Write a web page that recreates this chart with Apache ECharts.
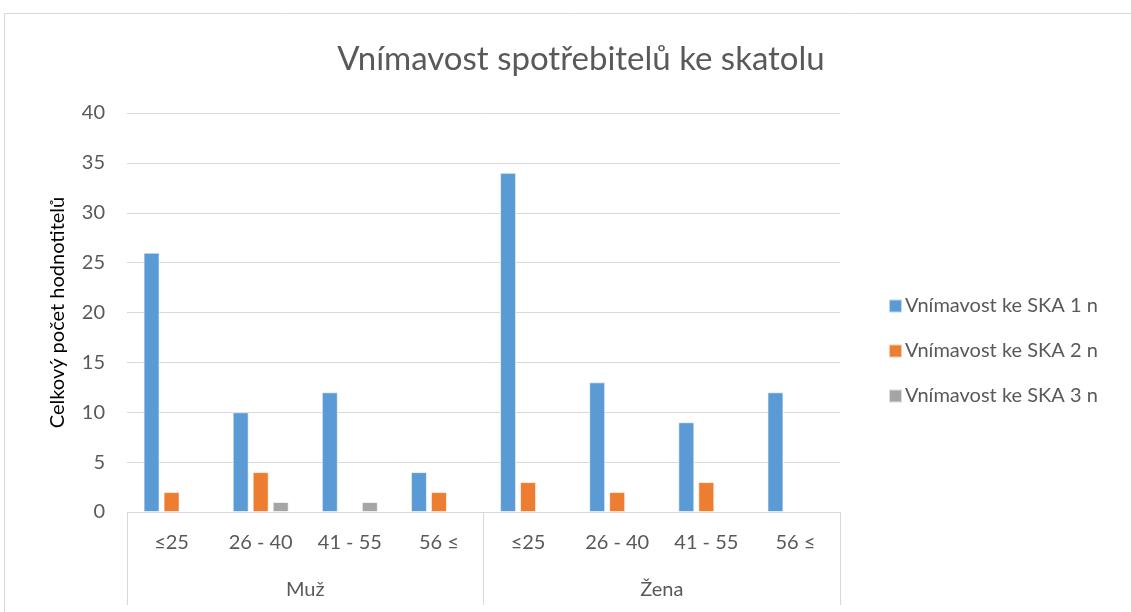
<!DOCTYPE html>
<html>
<head>
<meta charset="utf-8">
<script src="https://cdn.jsdelivr.net/npm/echarts@6/dist/echarts.min.js"></script>
<style>
  html, body { margin: 0; padding: 0; background: #fff; }
  #chart { width: 1131px; height: 612px; }
</style>
</head>
<body>
<div id="chart"></div>
<script>
const ageGroups = ["≤25", "26 - 40", "41 - 55", "56 ≤", "≤25", "26 - 40", "41 - 55", "56 ≤"];
const genders = ["Muž", "Žena"];
const seriesNames = ["Vnímavost ke SKA 1 n", "Vnímavost ke SKA 2 n", "Vnímavost ke SKA 3 n"];
const ska1 = [26, 10, 12, 4, 34, 13, 9, 12];
const ska2 = [2, 4, 0, 2, 3, 2, 3, 0];
const ska3 = [0, 1, 1, 0, 0, 0, 0, 0];
const yTicks = { min: 0, max: 40, interval: 5 };

const font = "Lato, 'Open Sans', sans-serif";
const textColor = "#595959";
const lineColor = "#d9d9d9";
const colors = ["#5B9BD5", "#ED7D31", "#A5A5A5"];

const mkSeries = (name, data, i) => ({
  name: name,
  type: "bar",
  xAxisIndex: 0,
  data: data.map(v => (v === 0 ? null : v)),
  barWidth: 16,
  barGap: "25%",
  itemStyle: {
    color: colors[i],
    borderColor: "rgba(255,255,255,0.6)",
    borderWidth: 1,
  },
});

const option = {
  animation: false,
  backgroundColor: "#fff",
  textStyle: { fontFamily: font },
  graphic: [
    {
      type: "rect",
      shape: { x: 4.5, y: 13.5, width: 1140, height: 620 },
      style: { fill: "none", stroke: lineColor, lineWidth: 1 },
      silent: true,
    },
  ],
  title: {
    text: "Vnímavost spotřebitelů ke skatolu",
    left: 576,
    textAlign: "center",
    top: 38,
    textStyle: { fontFamily: font, fontSize: 33, fontWeight: "normal", color: textColor },
  },
  legend: {
    orient: "vertical",
    left: 883,
    top: 291,
    itemWidth: 13,
    itemHeight: 13,
    itemGap: 25,
    icon: "rect",
    data: seriesNames,
    textStyle: { fontFamily: font, fontSize: 20, color: textColor, padding: [0, 0, 0, -2] },
  },
  grid: { left: 127, right: 291, top: 113, bottom: 100 },
  xAxis: [
    {
      type: "category",
      data: ageGroups,
      axisLine: { lineStyle: { color: lineColor, width: 1 } },
      axisTick: { show: false },
      axisLabel: { color: textColor, fontSize: 20, margin: 21, interval: 0 },
    },
    {
      type: "category",
      data: genders,
      position: "bottom",
      axisLine: { show: false },
      axisTick: { show: true, length: 93, interval: 0, lineStyle: { color: lineColor } },
      axisLabel: { color: textColor, fontSize: 20, margin: 68, interval: 0 },
      splitLine: { show: false },
    },
  ],
  yAxis: {
    type: "value",
    min: yTicks.min,
    max: yTicks.max,
    interval: yTicks.interval,
    name: "Celkový počet hodnotitelů",
    nameLocation: "middle",
    nameRotate: 90,
    nameGap: 59,
    nameTextStyle: { fontFamily: font, fontSize: 20, color: "#000" },
    axisLine: { show: false },
    axisTick: { show: false },
    axisLabel: { color: textColor, fontSize: 20, margin: 22 },
    splitLine: { lineStyle: { color: lineColor, width: 1 } },
  },
  series: [
    mkSeries(seriesNames[0], ska1, 0),
    mkSeries(seriesNames[1], ska2, 1),
    mkSeries(seriesNames[2], ska3, 2),
  ],
};

const chart = echarts.init(document.getElementById("chart"));
chart.setOption(option);
</script>
</body>
</html>
